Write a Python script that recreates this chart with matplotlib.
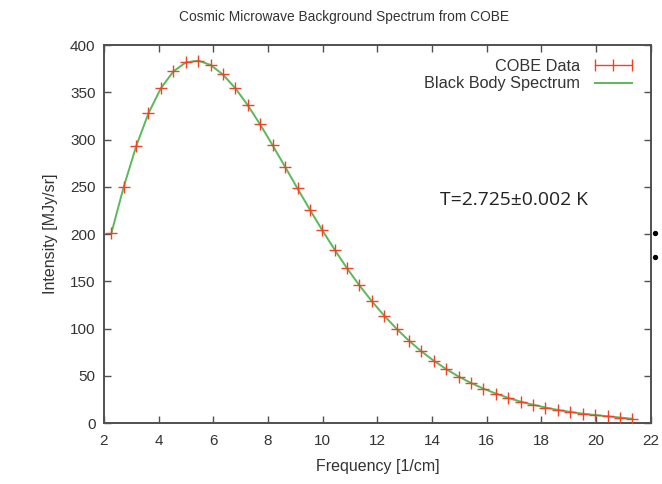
import numpy as np
import matplotlib
matplotlib.use("Agg")
import matplotlib.pyplot as plt
from matplotlib.lines import Line2D

# FIRAS monopole spectrum
freq = [2.27, 2.72, 3.18, 3.63, 4.08, 4.54, 4.99, 5.45, 5.90, 6.35, 6.81,
        7.26, 7.71, 8.17, 8.62, 9.08, 9.53, 9.98, 10.44, 10.89, 11.34, 11.80,
        12.25, 12.71, 13.16, 13.61, 14.07, 14.52, 14.97, 15.43, 15.88, 16.34,
        16.79, 17.24, 17.70, 18.15, 18.61, 19.06, 19.51, 19.97, 20.42, 20.87,
        21.33]
intensity = [200.7, 249.5, 293.0, 327.8, 354.1, 372.1, 381.5, 383.5, 378.9,
             368.8, 354.1, 336.3, 316.1, 293.9, 271.4, 248.2, 225.9, 204.3,
             183.3, 163.8, 145.8, 128.8, 113.6, 99.5, 87.0, 75.9, 65.8, 57.0,
             49.2, 42.3, 36.4, 31.1, 26.6, 22.6, 19.3, 16.4, 13.8, 11.7, 9.9,
             8.4, 7.1, 5.8, 4.5]
# black body curve for T = 2.725 K at the same frequencies
bb_intensity = intensity

xticks = list(range(2, 23, 2))
yticks = list(range(0, 401, 50))

stray_x = [22.15, 22.15]
stray_y = [201, 176]

plt.rcParams['font.family'] = ['Liberation Sans', 'DejaVu Sans']
plt.rcParams['font.size'] = 11

red = '#ee4326'
green = '#5cb85c'
frame = '#505050'
txt = '#333333'

fig = plt.figure(figsize=(6.62, 4.84), dpi=100)
ax = fig.add_axes([0.157, 0.126, 0.826, 0.781])

ax.plot(freq, bb_intensity, color=green, lw=1.4, zorder=2)
ax.plot(freq, intensity, '+', color=red, ms=8.5, mew=1.0, zorder=3)

ax.set_xlim(2, 22)
ax.set_ylim(0, 400)
ax.set_xticks(xticks)
ax.set_yticks(yticks)
ax.tick_params(direction='in', length=5, width=1, color=frame,
               top=True, right=True, labelcolor=txt, labelsize=11)
ax.tick_params(axis='x', pad=8)
ax.tick_params(axis='y', pad=6)
for sp in ax.spines.values():
    sp.set_color(frame)
    sp.set_linewidth(1.4)

fig.text(0.52, 0.965, 'Cosmic Microwave Background Spectrum from COBE',
         fontsize=9.9, color=txt, ha='center', va='center')
ax.set_xlabel('Frequency [1/cm]', color=txt, fontsize=11.5, labelpad=8)
ax.set_ylabel('Intensity [MJy/sr]', color=txt, fontsize=11.5, labelpad=9)

handles = [Line2D([], [], color=red, marker='|', ms=8, mew=1.0, lw=1),
           Line2D([], [], color=green, lw=1.4)]
ax.legend(handles, ['COBE Data', 'Black Body Spectrum'], loc='upper right',
          frameon=False, markerfirst=False, numpoints=3, handlelength=2.9,
          handletextpad=0.6, labelspacing=0.15, borderaxespad=0.45,
          fontsize=11.7, labelcolor=txt)

ax.text(14.3, 236, 'T=2.725\u00b10.002 K', fontsize=13.9, va='center',
        family=['Open Sans', 'DejaVu Sans'], color='#222222')

ax.scatter(stray_x, stray_y, s=8, color='black', clip_on=False, zorder=5)

fig.savefig('out.png', dpi=100)
